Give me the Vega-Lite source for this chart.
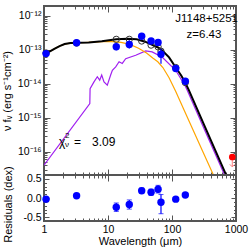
{
  "$schema": "https://vega.github.io/schema/vega-lite/v6.json",
  "padding": {"left": 0, "top": 4, "right": 0, "bottom": 0},
  "spacing": 0,
  "bounds": "flush",
  "config": {
    "view": {"stroke": "#555555", "strokeWidth": 2},
    "font": "Liberation Sans",
    "axis": {"labelFont": "Liberation Sans", "titleFont": "Liberation Sans", "labelFontSize": 10.5, "titleFontSize": 11, "labelColor": "#000000", "titleColor": "#000000", "titleFontWeight": "normal", "domain": false, "grid": false, "tickColor": "#555555", "tickWidth": 1, "labelOverlap": false, "labelBound": false, "labelFlush": false},
    "text": {"font": "Liberation Sans"},
    "concat": {"spacing": 0}
  },
  "datasets": {
    "obs": [
      {"lam": 1.077, "f": 7.76e-14, "lo": 7.24e-14, "hi": 8.32e-14},
      {"lam": 3.23, "f": 1.62e-13, "lo": 1.51e-13, "hi": 1.74e-13},
      {"lam": 13.46, "f": 1.23e-13, "lo": 9.77e-14, "hi": 1.55e-13},
      {"lam": 21.5, "f": 1.445e-13, "lo": 1.096e-13, "hi": 1.905e-13},
      {"lam": 33.6, "f": 2.51e-13, "lo": 2.09e-13, "hi": 3.02e-13},
      {"lam": 47.1, "f": 1.82e-13, "lo": 1.51e-13, "hi": 2.19e-13},
      {"lam": 60.6, "f": 1.66e-13, "lo": 1.318e-13, "hi": 2.09e-13},
      {"lam": 67.3, "f": 7.41e-14, "lo": 3.89e-14, "hi": 1.07e-13},
      {"lam": 114.4, "f": 2.82e-14, "lo": 2.63e-14, "hi": 3.02e-14},
      {"lam": 161.5, "f": 1.2e-14, "lo": 1.12e-14, "hi": 1.29e-14}
    ],
    "model": [
      {"lam": 1.077, "f": 8.1e-14},
      {"lam": 3.23, "f": 1.585e-13},
      {"lam": 13.46, "f": 2.04e-13},
      {"lam": 21.5, "f": 2.04e-13},
      {"lam": 33.6, "f": 1.82e-13},
      {"lam": 47.1, "f": 1.38e-13},
      {"lam": 60.6, "f": 1.23e-13},
      {"lam": 67.3, "f": 9.12e-14},
      {"lam": 114.4, "f": 3.02e-14},
      {"lam": 161.5, "f": 1.096e-14}
    ],
    "black": [
      {"lam": 1.0, "f": 7.76e-14},
      {"lam": 1.2, "f": 8.71e-14},
      {"lam": 1.45, "f": 1.07e-13},
      {"lam": 1.75, "f": 1.29e-13},
      {"lam": 2.1, "f": 1.48e-13},
      {"lam": 2.6, "f": 1.585e-13},
      {"lam": 3.5, "f": 1.62e-13},
      {"lam": 5.0, "f": 1.66e-13},
      {"lam": 8.0, "f": 1.78e-13},
      {"lam": 13.5, "f": 2.04e-13},
      {"lam": 20.0, "f": 2.14e-13},
      {"lam": 28.0, "f": 2.04e-13},
      {"lam": 38.0, "f": 1.74e-13},
      {"lam": 49.0, "f": 1.41e-13},
      {"lam": 60.6, "f": 1.175e-13},
      {"lam": 70.6, "f": 9.55e-14},
      {"lam": 90.0, "f": 6.03e-14},
      {"lam": 114.0, "f": 3.09e-14},
      {"lam": 140.0, "f": 1.74e-14},
      {"lam": 161.0, "f": 1.096e-14},
      {"lam": 184.0, "f": 6.46e-15},
      {"lam": 300.0, "f": 7.94e-16},
      {"lam": 700.0, "f": 2.1e-17}
    ],
    "purple": [
      {"lam": 1.0, "f": 4.07e-17},
      {"lam": 5.2, "f": 2.63e-15},
      {"lam": 5.25, "f": 7.24e-15},
      {"lam": 6.04, "f": 1.148e-14},
      {"lam": 6.81, "f": 1.62e-14},
      {"lam": 7.42, "f": 1.288e-14},
      {"lam": 7.97, "f": 1.82e-14},
      {"lam": 8.66, "f": 1.148e-14},
      {"lam": 9.75, "f": 9.12e-15},
      {"lam": 11.0, "f": 1.82e-14},
      {"lam": 11.7, "f": 2.51e-14},
      {"lam": 13.2, "f": 3.16e-14},
      {"lam": 14.9, "f": 4.47e-14},
      {"lam": 16.7, "f": 3.98e-14},
      {"lam": 18.9, "f": 5.5e-14},
      {"lam": 27.1, "f": 6.92e-14},
      {"lam": 38.8, "f": 9.33e-14},
      {"lam": 49.0, "f": 8.71e-14},
      {"lam": 70.6, "f": 6.03e-14},
      {"lam": 114.0, "f": 2.51e-14},
      {"lam": 161.0, "f": 8.71e-15},
      {"lam": 173.0, "f": 6.46e-15},
      {"lam": 300.0, "f": 6.03e-16},
      {"lam": 662.0, "f": 2.1e-17}
    ],
    "orange": [
      {"lam": 1.0, "f": 7.76e-14},
      {"lam": 1.2, "f": 8.71e-14},
      {"lam": 1.45, "f": 1.07e-13},
      {"lam": 1.75, "f": 1.29e-13},
      {"lam": 2.1, "f": 1.48e-13},
      {"lam": 2.6, "f": 1.585e-13},
      {"lam": 3.5, "f": 1.62e-13},
      {"lam": 5.0, "f": 1.66e-13},
      {"lam": 8.0, "f": 1.74e-13},
      {"lam": 12.0, "f": 1.74e-13},
      {"lam": 16.0, "f": 1.66e-13},
      {"lam": 22.0, "f": 1.445e-13},
      {"lam": 30.0, "f": 1.12e-13},
      {"lam": 40.0, "f": 8.13e-14},
      {"lam": 50.0, "f": 5.75e-14},
      {"lam": 60.0, "f": 4.47e-14},
      {"lam": 72.0, "f": 3.02e-14},
      {"lam": 90.0, "f": 1.51e-14},
      {"lam": 114.0, "f": 6.03e-15},
      {"lam": 150.0, "f": 1.905e-15},
      {"lam": 200.0, "f": 5.75e-16},
      {"lam": 300.0, "f": 1.07e-16},
      {"lam": 442.0, "f": 2.14e-17}
    ],
    "lim": [{"lam": 875, "f": 7.08e-17, "tip": 3.63e-17}],
    "res": [
      {"lam": 1.077, "r": -0.03, "rlo": -0.06, "rhi": 0.0},
      {"lam": 3.23, "r": 0.06, "rlo": 0.03, "rhi": 0.09},
      {"lam": 13.46, "r": -0.24, "rlo": -0.35, "rhi": -0.13},
      {"lam": 21.5, "r": -0.17, "rlo": -0.29, "rhi": -0.05},
      {"lam": 33.6, "r": 0.19, "rlo": 0.12, "rhi": 0.26},
      {"lam": 47.1, "r": 0.15, "rlo": 0.07, "rhi": 0.23},
      {"lam": 60.6, "r": 0.23, "rlo": 0.13, "rhi": 0.33},
      {"lam": 67.3, "r": -0.11, "rlo": -0.41, "rhi": 0.09},
      {"lam": 114.4, "r": -0.03, "rlo": -0.06, "rhi": 0.0},
      {"lam": 161.5, "r": 0.08, "rlo": 0.05, "rhi": 0.11}
    ]
  },
  "vconcat": [
    {
      "width": 192,
      "height": 169,
      "resolve": {"axis": {"x": "independent", "y": "independent"}},
      "layer": [
        {
          "encoding": {
            "x": {"field": "lam", "type": "quantitative", "scale": {"type": "log", "domain": [1, 1000], "nice": false},
              "axis": {"orient": "bottom", "values": [1,2,3,4,5,6,7,8,9,10,20,30,40,50,60,70,80,90,100,200,300,400,500,600,700,800,900,1000], "labels": false, "title": null,
                "tickSize": {"condition": {"test": "datum.value == 1 || datum.value == 10 || datum.value == 100 || datum.value == 1000", "value": -6}, "value": -3}}},
            "y": {"field": "f", "type": "quantitative", "scale": {"type": "log", "domain": [2.09e-17, 1.95e-12], "nice": false},
              "axis": {"orient": "left", "values": [3e-17,4e-17,5e-17,6e-17,7e-17,8e-17,9e-17,1e-16,2e-16,3e-16,4e-16,5e-16,6e-16,7e-16,8e-16,9e-16,1e-15,2e-15,3e-15,4e-15,5e-15,6e-15,7e-15,8e-15,9e-15,1e-14,2e-14,3e-14,4e-14,5e-14,6e-14,7e-14,8e-14,9e-14,1e-13,2e-13,3e-13,4e-13,5e-13,6e-13,7e-13,8e-13,9e-13,1e-12],
                "labelExpr": "datum.value == 1e-12 ? '10⁻¹²' : datum.value == 1e-13 ? '10⁻¹³' : datum.value == 1e-14 ? '10⁻¹⁴' : datum.value == 1e-15 ? '10⁻¹⁵' : datum.value == 1e-16 ? '10⁻¹⁶' : ''",
                "labelPadding": 9,
                "tickSize": {"condition": {"test": "datum.value == 1e-12 || datum.value == 1e-13 || datum.value == 1e-14 || datum.value == 1e-15 || datum.value == 1e-16", "value": -6}, "value": -3},
                "title": "ν fᵥ (erg s⁻¹cm⁻²)", "titleX": -34, "titleBaseline": "alphabetic"}}
          },
          "layer": [
            {"data": {"name": "purple"}, "mark": {"type": "line", "color": "#a020f0", "strokeWidth": 1.2, "clip": true}},
            {"data": {"name": "orange"}, "mark": {"type": "line", "color": "#ffa500", "strokeWidth": 1.2, "clip": true}},
            {"data": {"name": "black"}, "mark": {"type": "line", "color": "#000000", "strokeWidth": 2, "clip": true}},
            {"data": {"name": "model"}, "mark": {"type": "point", "filled": false, "color": "#333333", "strokeWidth": 1, "size": 40, "opacity": 1}},
            {"data": {"name": "obs"}, "mark": {"type": "rule", "color": "#0000ff", "strokeWidth": 1.2},
              "encoding": {"y": {"field": "lo", "type": "quantitative"}, "y2": {"field": "hi"}}},
            {"data": {"name": "obs"}, "mark": {"type": "circle", "color": "#0000ff", "size": 55, "opacity": 1}},
            {"data": {"name": "lim"}, "mark": {"type": "rule", "color": "#ff8080", "strokeWidth": 1},
              "encoding": {"y2": {"field": "tip"}}},
            {"data": {"name": "lim"}, "mark": {"type": "point", "shape": "M-1,-1L0,0L1,-1", "filled": false, "color": "#ff8080", "strokeWidth": 1, "size": 25, "opacity": 1},
              "encoding": {"y": {"field": "tip", "type": "quantitative"}}},
            {"data": {"name": "lim"}, "mark": {"type": "circle", "color": "#ff0000", "size": 45, "opacity": 1}},
            {"data": {"values": [{"lam": 1000, "f": 8.17e-13, "label": "J1148+5251"}]},
              "mark": {"type": "text", "align": "right", "baseline": "middle", "dx": 2, "fontSize": 11.5, "color": "#000000"},
              "encoding": {"text": {"field": "label"}}},
            {"data": {"values": [{"lam": 316, "f": 2.67e-13, "label": "z=6.43"}]},
              "mark": {"type": "text", "align": "center", "baseline": "middle", "fontSize": 11.5, "color": "#000000"},
              "encoding": {"text": {"field": "label"}}},
            {"data": {"values": [{"lam": 1.716, "f": 1.97e-16, "label": "χ"}]},
              "mark": {"type": "text", "align": "left", "baseline": "middle", "fontSize": 12, "color": "#000000"},
              "encoding": {"text": {"field": "label"}}},
            {"data": {"values": [{"lam": 2.13, "f": 2.86e-16, "label": "2"}]},
              "mark": {"type": "text", "align": "left", "baseline": "middle", "fontSize": 8, "color": "#000000"},
              "encoding": {"text": {"field": "label"}}},
            {"data": {"values": [{"lam": 2.13, "f": 1.61e-16, "label": "ν"}]},
              "mark": {"type": "text", "align": "left", "baseline": "middle", "fontSize": 8, "color": "#000000"},
              "encoding": {"text": {"field": "label"}}},
            {"data": {"values": [{"lam": 3.34, "f": 1.97e-16, "label": "="}]},
              "mark": {"type": "text", "align": "center", "baseline": "middle", "fontSize": 12, "color": "#000000"},
              "encoding": {"text": {"field": "label"}}},
            {"data": {"values": [{"lam": 5.62, "f": 1.97e-16, "label": "3.09"}]},
              "mark": {"type": "text", "align": "left", "baseline": "middle", "fontSize": 12, "color": "#000000"},
              "encoding": {"text": {"field": "label"}}}
          ]
        },
        {
          "data": {"name": "model"},
          "mark": {"type": "point", "opacity": 0},
          "encoding": {
            "x": {"field": "lam", "type": "quantitative", "scale": {"type": "log", "domain": [1, 1000], "nice": false},
              "axis": {"orient": "top", "values": [1,2,3,4,5,6,7,8,9,10,20,30,40,50,60,70,80,90,100,200,300,400,500,600,700,800,900,1000], "labels": false, "title": null,
                "tickSize": {"condition": {"test": "datum.value == 1 || datum.value == 10 || datum.value == 100 || datum.value == 1000", "value": -6}, "value": -3}}},
            "y": {"field": "f", "type": "quantitative", "scale": {"type": "log", "domain": [2.09e-17, 1.95e-12], "nice": false},
              "axis": {"orient": "right", "values": [3e-17,4e-17,5e-17,6e-17,7e-17,8e-17,9e-17,1e-16,2e-16,3e-16,4e-16,5e-16,6e-16,7e-16,8e-16,9e-16,1e-15,2e-15,3e-15,4e-15,5e-15,6e-15,7e-15,8e-15,9e-15,1e-14,2e-14,3e-14,4e-14,5e-14,6e-14,7e-14,8e-14,9e-14,1e-13,2e-13,3e-13,4e-13,5e-13,6e-13,7e-13,8e-13,9e-13,1e-12], "labels": false, "title": null,
                "tickSize": {"condition": {"test": "datum.value == 1e-12 || datum.value == 1e-13 || datum.value == 1e-14 || datum.value == 1e-15 || datum.value == 1e-16", "value": -6}, "value": -3}}}
          }
        }
      ]
    },
    {
      "width": 192,
      "height": 46,
      "resolve": {"axis": {"x": "independent", "y": "independent"}},
      "layer": [
        {
          "encoding": {
            "x": {"field": "lam", "type": "quantitative", "scale": {"type": "log", "domain": [1, 1000], "nice": false},
              "axis": {"orient": "bottom", "values": [1,2,3,4,5,6,7,8,9,10,20,30,40,50,60,70,80,90,100,200,300,400,500,600,700,800,900,1000],
                "labelExpr": "datum.value == 1 || datum.value == 10 || datum.value == 100 || datum.value == 1000 ? '' + datum.value : ''",
                "labelPadding": 9,
                "tickSize": {"condition": {"test": "datum.value == 1 || datum.value == 10 || datum.value == 100 || datum.value == 1000", "value": -6}, "value": -3},
                "title": "Wavelength (μm)", "titleY": 20.5, "titleBaseline": "middle"}},
            "y": {"field": "r", "type": "quantitative", "scale": {"domain": [-0.6, 0.6], "nice": false, "zero": false},
              "axis": {"orient": "left", "values": [-0.5,-0.4,-0.3,-0.2,-0.1,0,0.1,0.2,0.3,0.4,0.5],
                "labelExpr": "datum.value == 0.5 ? '0.5' : datum.value == 0 ? '0.0' : datum.value == -0.5 ? '-0.5' : ''",
                "labelPadding": 8,
                "tickSize": {"condition": {"test": "datum.value == 0.5 || datum.value == 0 || datum.value == -0.5", "value": -5}, "value": -2.5},
                "title": "Residuals (dex)", "titleX": -33, "titleY": 29, "titleBaseline": "alphabetic"}}
          },
          "layer": [
            {"data": {"values": [{}]}, "mark": {"type": "rule", "color": "#aaaaaa", "strokeDash": [2, 3], "strokeWidth": 1},
              "encoding": {"x": {"datum": 1}, "x2": {"datum": 1000}, "y": {"datum": 0}}},
            {"data": {"name": "res"}, "mark": {"type": "errorbar", "ticks": {"size": 5, "color": "#0000ff"}, "rule": {"color": "#0000ff", "strokeWidth": 1.2}},
              "encoding": {"y": {"field": "rlo", "type": "quantitative"}, "y2": {"field": "rhi"}}},
            {"data": {"name": "res"}, "mark": {"type": "circle", "color": "#0000ff", "size": 55, "opacity": 1}}
          ]
        },
        {
          "data": {"name": "res"},
          "mark": {"type": "point", "opacity": 0},
          "encoding": {
            "x": {"field": "lam", "type": "quantitative", "scale": {"type": "log", "domain": [1, 1000], "nice": false},
              "axis": {"orient": "top", "values": [1,2,3,4,5,6,7,8,9,10,20,30,40,50,60,70,80,90,100,200,300,400,500,600,700,800,900,1000], "labels": false, "title": null,
                "tickSize": {"condition": {"test": "datum.value == 1 || datum.value == 10 || datum.value == 100 || datum.value == 1000", "value": -6}, "value": -3}}},
            "y": {"field": "r", "type": "quantitative", "scale": {"domain": [-0.6, 0.6], "nice": false, "zero": false},
              "axis": {"orient": "right", "values": [-0.5,-0.4,-0.3,-0.2,-0.1,0,0.1,0.2,0.3,0.4,0.5], "labels": false, "title": null,
                "tickSize": {"condition": {"test": "datum.value == 0.5 || datum.value == 0 || datum.value == -0.5", "value": -5}, "value": -2.5}}}
          }
        }
      ]
    }
  ]
}
